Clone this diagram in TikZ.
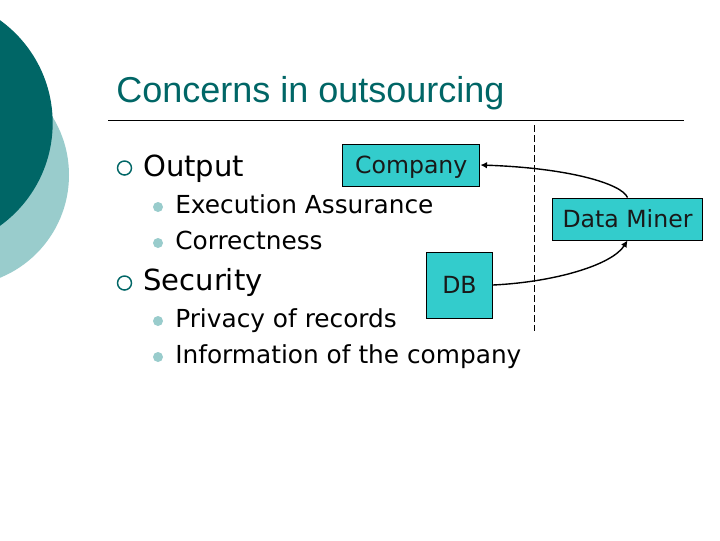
\documentclass[tikz,border=0pt]{standalone}
\usepackage{fontspec}
\setmainfont{DejaVu Sans}
\newfontfamily\titlefont{Liberation Sans}
\usetikzlibrary{arrows.meta}
\definecolor{tealdark}{HTML}{006666}
\definecolor{teallight}{HTML}{99CCCC}
\definecolor{boxfill}{HTML}{33CCCC}
\tikzset{
  x=0.75pt,y=-0.75pt,
  boxnode/.style={draw=black,fill=boxfill,line width=0.7pt,inner sep=0pt,text height=12.9pt,text depth=0pt,font=\fontsize{17.7}{20}\selectfont,text=black!90},
  big/.style={anchor=base west,inner sep=0pt,font=\fontsize{21.8}{26}\selectfont,text=black},
  small/.style={anchor=base west,inner sep=0pt,font=\fontsize{18.6}{22}\selectfont,text=black},
  ringb/.style={circle,draw=tealdark,line width=1.1pt,minimum size=10.5pt,inner sep=0pt},
  dotb/.style={circle,fill=teallight,minimum size=7.5pt,inner sep=0pt},
  conn/.style={draw=black,line width=1.05pt,-{Latex[length=5pt,width=5pt]}}
}
\begin{document}
\begin{tikzpicture}
\useasboundingbox (0,0) rectangle (720,540);
\fill[white] (0,0) rectangle (720,540);
\begin{scope}
\clip (0,0) rectangle (720,540);
\fill[teallight] (-42,175) circle[radius=83.25pt];
\fill[tealdark] (-74,123) circle[radius=95pt];
\end{scope}
\node[anchor=base west,inner sep=0pt,text=tealdark,font=\titlefont\fontsize{27}{32}\selectfont] (title) at (116,102) {Concerns in outsourcing};
\coordinate (ruleL) at (108,120.5);
\coordinate (ruleR) at (684,120.5);
\draw[line width=0.7pt] (ruleL) -- (ruleR);
\node[ringb] (r1) at (124.5,168) {};
\node[big] (t1) at (143,176) {Output};
\node[dotb] (d1) at (158,207) {};
\node[small] (t2) at (175,213) {Execution Assurance};
\node[dotb] (d2) at (158,243) {};
\node[small] (t3) at (175,249) {Correctness};
\node[ringb] (r2) at (124.5,283) {};
\node[big] (t4) at (143,290) {Security};
\node[dotb] (d3) at (158,321) {};
\node[small] (t5) at (175,327) {Privacy of records};
\node[dotb] (d4) at (158,357) {};
\node[small] (t6) at (175,363) {Information of the company};
\coordinate (dashT) at (534,125);
\coordinate (dashB) at (534,331);
\draw[dashed,line width=0.7pt,dash pattern=on 5pt off 2.5pt] (dashT) -- (dashB);
\node[boxnode,minimum width=103pt,minimum height=31.5pt] (company) at (411.25,165) {Company};
\node[boxnode,minimum width=112.5pt,minimum height=31.5pt] (miner) at (627.5,219) {Data Miner};
\node[boxnode,minimum width=49.5pt,minimum height=49.5pt] (db) at (459.5,285) {DB};
\draw[conn] (miner.north) .. controls (622,184) and (570,168) .. (company.east);
\draw[conn] (db.east) .. controls (555,282) and (612,265) .. (miner.south);
\end{tikzpicture}
\end{document}
